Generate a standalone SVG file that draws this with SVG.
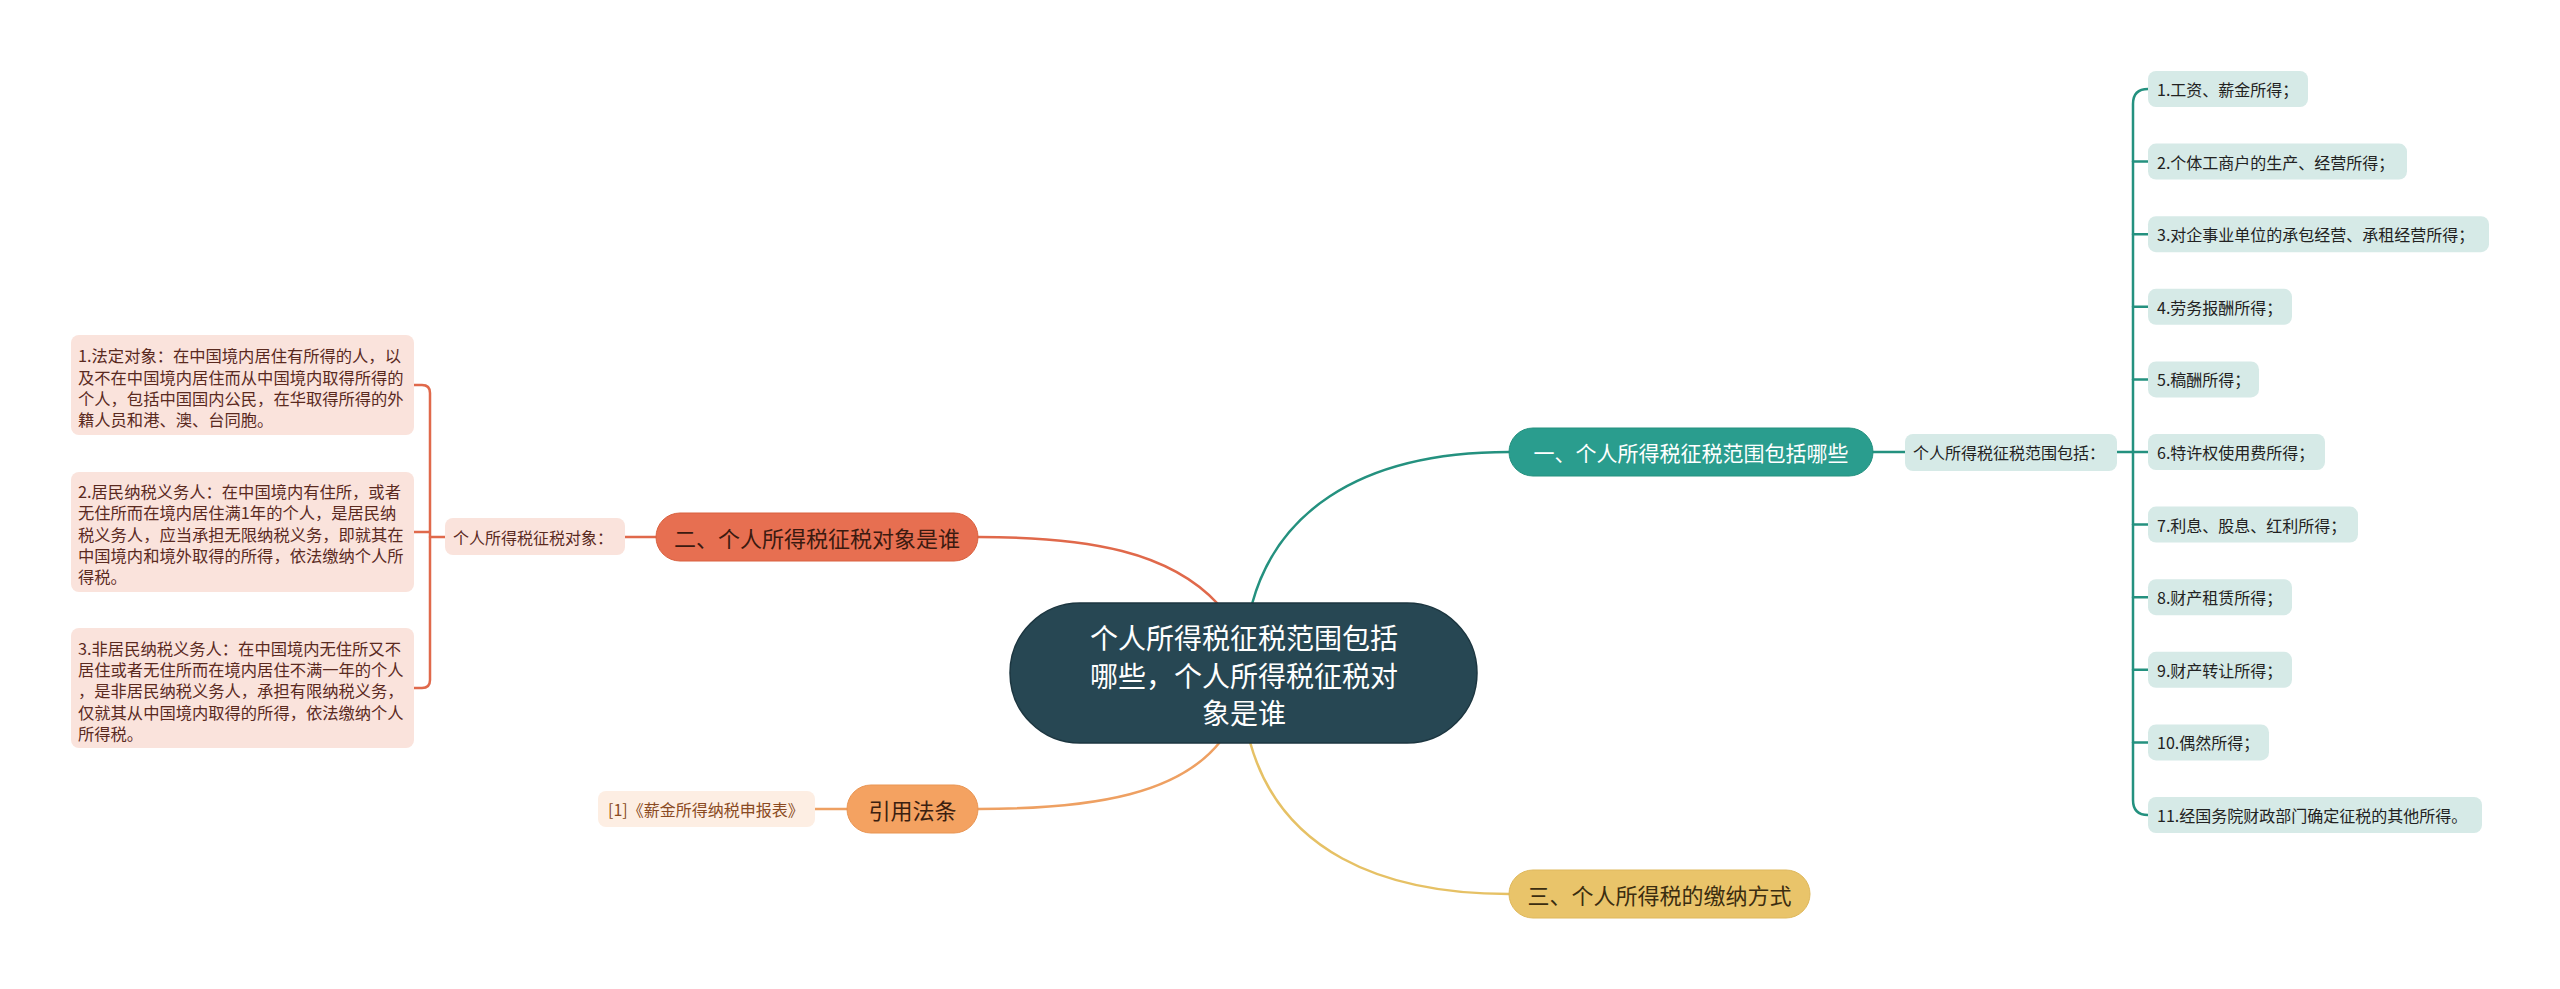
<svg xmlns="http://www.w3.org/2000/svg" width="2560" height="989" viewBox="0 0 2560 989">
<style>
text{font-family:"Noto Sans CJK SC","Noto Sans",sans-serif;dominant-baseline:central}
.conn{fill:none;stroke-width:2.5;stroke-linecap:round}
.teal{stroke:#24917f}
.org{stroke:#e0694b}
.pch{stroke:#eea062}
.yel{stroke:#e6c165}
.rbox{fill:#d6eae7}
.rtxt{font-size:16px;fill:#222}
.lbox{fill:#fae3dc}
.ltxt{font-size:16.3px;fill:#5a2a1f}
.big{font-size:22px}
</style>
<rect width="2560" height="989" fill="#ffffff"/>
<g id="connectors">
<path class="conn teal" d="M1252,604 C1275,520 1350,452 1509,452"/>
<path class="conn org" d="M1218,604 C1170,552 1090,537 978,537"/>
<path class="conn pch" d="M1220,742 C1180,792 1100,809 978,809"/>
<path class="conn yel" d="M1250,742 C1280,850 1380,894 1509,894"/>
<path class="conn teal" d="M1873,452 L1905,452 M2117,452 L2133,452"/>
<path class="conn teal" d="M2148,89 Q2133,89 2133,104 L2133,800 Q2133,815 2148,815"/>
<path class="conn teal" d="M2133,161.6 L2148,161.6 M2133,234.2 L2148,234.2 M2133,306.8 L2148,306.8 M2133,379.4 L2148,379.4 M2133,452 L2148,452 M2133,524.6 L2148,524.6 M2133,597.2 L2148,597.2 M2133,669.8 L2148,669.8 M2133,742.4 L2148,742.4"/>
<path class="conn org" d="M656,537 L625,537 M445,537 L430,537"/>
<path class="conn org" d="M414,385 L422,385 Q430,385 430,393 L430,680 Q430,688 422,688 L414,688 M414,532 L430,532"/>
<path class="conn pch" d="M847,809 L815,809"/>
</g>
<g id="center">
<rect x="1010" y="603" width="467" height="140" rx="70" fill="#274753" stroke="#1c3640" stroke-width="1.5"/>
<text x="1244" y="637" font-size="28" fill="#ffffff" text-anchor="middle">个人所得税征税范围包括</text>
<text x="1244" y="675" font-size="28" fill="#ffffff" text-anchor="middle">哪些，个人所得税征税对</text>
<text x="1244" y="712" font-size="28" fill="#ffffff" text-anchor="middle">象是谁</text>
</g>
<g id="branch1">
<rect x="1509" y="428" width="364" height="48" rx="24" fill="#2a9d8e" stroke="#24917f" stroke-width="1"/>
<text x="1691" y="452" font-size="21" fill="#ffffff" text-anchor="middle">一、个人所得税征税范围包括哪些</text>
</g>
<g id="branch1-label">
<rect x="1905" y="434" width="212" height="37" rx="8" class="rbox"/>
<text class="rtxt" x="1913" y="452">个人所得税征税范围包括：</text>
</g>
<g id="r1"><rect class="rbox" x="2148" y="71" width="160" height="36" rx="8"/><text class="rtxt" x="2157" y="89">1.工资、薪金所得；</text></g>
<g id="r2"><rect class="rbox" x="2148" y="143.6" width="259" height="36" rx="8"/><text class="rtxt" x="2157" y="161.6">2.个体工商户的生产、经营所得；</text></g>
<g id="r3"><rect class="rbox" x="2148" y="216.2" width="341" height="36" rx="8"/><text class="rtxt" x="2157" y="234.2">3.对企事业单位的承包经营、承租经营所得；</text></g>
<g id="r4"><rect class="rbox" x="2148" y="288.8" width="144" height="36" rx="8"/><text class="rtxt" x="2157" y="306.8">4.劳务报酬所得；</text></g>
<g id="r5"><rect class="rbox" x="2148" y="361.4" width="111" height="36" rx="8"/><text class="rtxt" x="2157" y="379.4">5.稿酬所得；</text></g>
<g id="r6"><rect class="rbox" x="2148" y="434" width="177" height="36" rx="8"/><text class="rtxt" x="2157" y="452">6.特许权使用费所得；</text></g>
<g id="r7"><rect class="rbox" x="2148" y="506.6" width="210" height="36" rx="8"/><text class="rtxt" x="2157" y="524.6">7.利息、股息、红利所得；</text></g>
<g id="r8"><rect class="rbox" x="2148" y="579.2" width="144" height="36" rx="8"/><text class="rtxt" x="2157" y="597.2">8.财产租赁所得；</text></g>
<g id="r9"><rect class="rbox" x="2148" y="651.8" width="144" height="36" rx="8"/><text class="rtxt" x="2157" y="669.8">9.财产转让所得；</text></g>
<g id="r10"><rect class="rbox" x="2148" y="724.4" width="121" height="36" rx="8"/><text class="rtxt" x="2157" y="742.4">10.偶然所得；</text></g>
<g id="r11"><rect class="rbox" x="2148" y="797" width="334" height="36" rx="8"/><text class="rtxt" x="2157" y="815">11.经国务院财政部门确定征税的其他所得。</text></g>
<g id="branch2">
<rect x="656" y="513" width="322" height="48" rx="24" fill="#e76f51" stroke="#d9613f" stroke-width="1"/>
<text class="big" x="817" y="537" fill="#3b1a10" text-anchor="middle">二、个人所得税征税对象是谁</text>
</g>
<g id="branch2-label">
<rect class="lbox" x="445" y="518" width="180" height="37" rx="8"/>
<text x="453" y="537" font-size="16" fill="#5a2a1f">个人所得税征税对象：</text>
</g>
<g id="l1">
<rect class="lbox" x="71" y="335" width="343" height="100" rx="8"/>
<text class="ltxt" x="78" y="355">1.法定对象：在中国境内居住有所得的人，以</text>
<text class="ltxt" x="78" y="376.5">及不在中国境内居住而从中国境内取得所得的</text>
<text class="ltxt" x="78" y="398">个人，包括中国国内公民，在华取得所得的外</text>
<text class="ltxt" x="78" y="419">籍人员和港、澳、台同胞。</text>
</g>
<g id="l2">
<rect class="lbox" x="71" y="472" width="343" height="120" rx="8"/>
<text class="ltxt" x="78" y="490.5">2.居民纳税义务人：在中国境内有住所，或者</text>
<text class="ltxt" x="78" y="512">无住所而在境内居住满1年的个人，是居民纳</text>
<text class="ltxt" x="78" y="533.5">税义务人，应当承担无限纳税义务，即就其在</text>
<text class="ltxt" x="78" y="555">中国境内和境外取得的所得，依法缴纳个人所</text>
<text class="ltxt" x="78" y="576">得税。</text>
</g>
<g id="l3">
<rect class="lbox" x="71" y="628" width="343" height="120" rx="8"/>
<text class="ltxt" x="78" y="647.5">3.非居民纳税义务人：在中国境内无住所又不</text>
<text class="ltxt" x="78" y="668.5">居住或者无住所而在境内居住不满一年的个人</text>
<text class="ltxt" x="78" y="690">，是非居民纳税义务人，承担有限纳税义务，</text>
<text class="ltxt" x="78" y="711.5">仅就其从中国境内取得的所得，依法缴纳个人</text>
<text class="ltxt" x="78" y="732.5">所得税。</text>
</g>
<g id="branch3">
<rect x="847" y="785" width="131" height="48" rx="24" fill="#f4a261" stroke="#e99553" stroke-width="1"/>
<text class="big" x="912.5" y="809" fill="#3b2010" text-anchor="middle">引用法条</text>
</g>
<g id="branch3-ref">
<rect x="598" y="791" width="217" height="36" rx="8" fill="#fdeee3"/>
<text x="608" y="809" font-size="16" fill="#8a4a22">[1]《薪金所得纳税申报表》</text>
</g>
<g id="branch4">
<rect x="1509" y="870" width="301" height="48" rx="24" fill="#e9c46a" stroke="#dfb85c" stroke-width="1"/>
<text class="big" x="1659.5" y="894" fill="#3b2d10" text-anchor="middle">三、个人所得税的缴纳方式</text>
</g>
</svg>
